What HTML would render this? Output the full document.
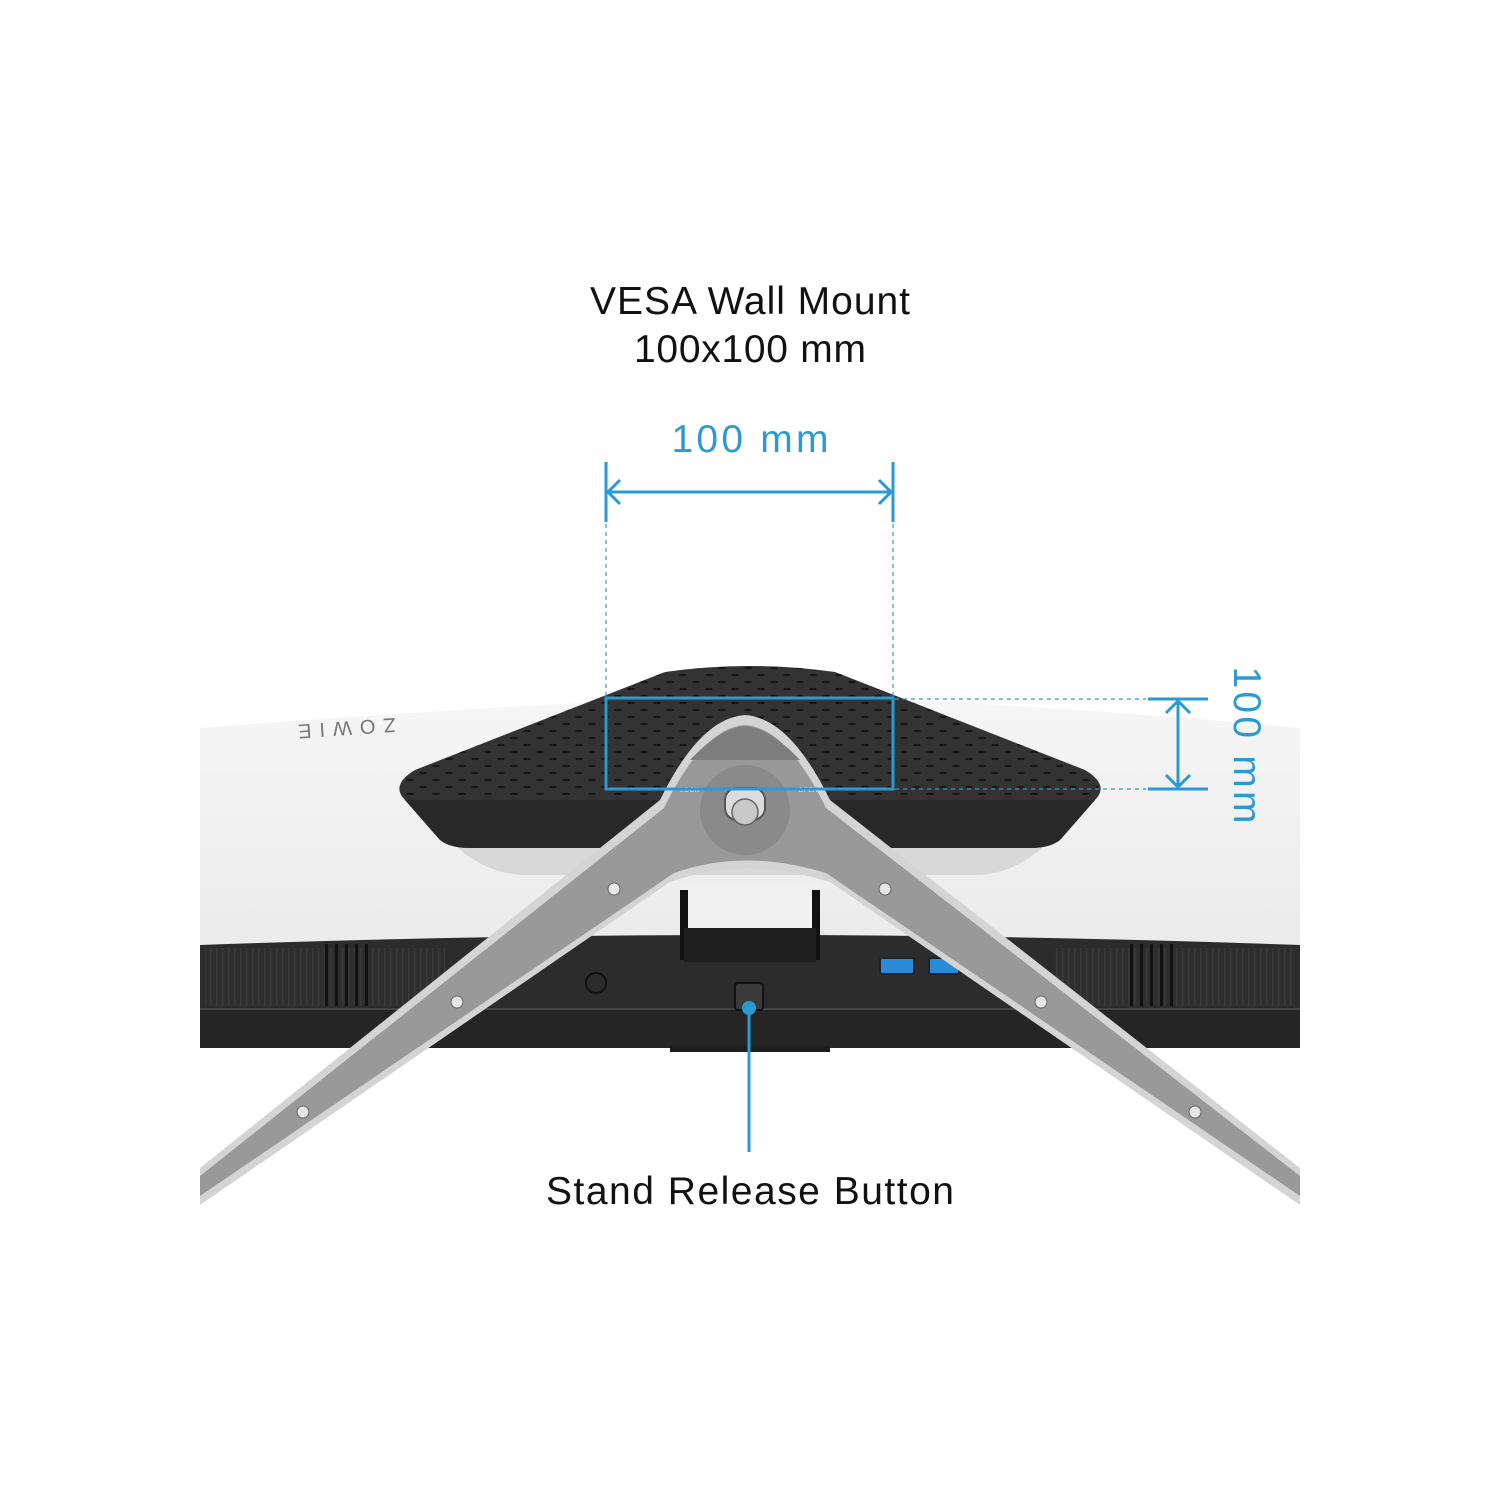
<!DOCTYPE html>
<html><head><meta charset="utf-8"><style>
html,body{margin:0;padding:0;background:#fff;}
svg{display:block;}
text{font-family:"Liberation Sans",sans-serif;}
</style></head><body>
<svg width="1500" height="1500" viewBox="0 0 1500 1500" xmlns="http://www.w3.org/2000/svg">
<defs>
<pattern id="dots" width="26" height="14" patternUnits="userSpaceOnUse">
<ellipse cx="7" cy="3" rx="4" ry="1.2" fill="#111"/>
<ellipse cx="20" cy="10" rx="4" ry="1.2" fill="#111"/>
</pattern>
<linearGradient id="wh" x1="0" y1="0" x2="0" y2="1">
<stop offset="0" stop-color="#f6f6f6"/><stop offset="1" stop-color="#ebebeb"/>
</linearGradient>
<pattern id="vent" width="6" height="10" patternUnits="userSpaceOnUse">
<rect width="6" height="10" fill="#2e2e2e"/><rect x="0" width="1.5" height="10" fill="#3a3a3a"/>
</pattern>
</defs>

<path d="M200 728 Q500 705 750 695 Q1000 700 1300 728 L1300 945 L200 945 Z" fill="url(#wh)"/>
<path d="M200 945 Q750 925 1300 945 L1300 1048 L200 1048 Z" fill="#2c2c2c"/>
<rect x="200" y="1010" width="1100" height="38" fill="#252525"/>
<rect x="200" y="1008" width="1100" height="2" fill="#444"/>
<rect x="205" y="948" width="240" height="58" fill="url(#vent)"/>
<rect x="1055" y="948" width="240" height="58" fill="url(#vent)"/>
<rect x="325" y="944" width="3" height="62" fill="#111"/><rect x="335" y="944" width="3" height="62" fill="#111"/><rect x="345" y="944" width="3" height="62" fill="#111"/><rect x="355" y="944" width="3" height="62" fill="#111"/><rect x="365" y="944" width="3" height="62" fill="#111"/>
<rect x="1130" y="944" width="3" height="62" fill="#111"/><rect x="1140" y="944" width="3" height="62" fill="#111"/><rect x="1150" y="944" width="3" height="62" fill="#111"/><rect x="1160" y="944" width="3" height="62" fill="#111"/><rect x="1170" y="944" width="3" height="62" fill="#111"/>
<rect x="670" y="1046" width="160" height="6" fill="#1e1e1e"/>
<circle cx="596" cy="983" r="10" fill="none" stroke="#111" stroke-width="2"/>
<rect x="880" y="958" width="34" height="16" rx="2" fill="#2a8bd8" stroke="#222" stroke-width="2"/>
<rect x="929" y="958" width="30" height="16" rx="2" fill="#2a8bd8" stroke="#222" stroke-width="2"/>
<text x="0" y="0" font-size="20" fill="#777" letter-spacing="8" transform="translate(395 718) rotate(176)">ZOWIE</text>

<path d="M420 800 Q460 870 520 875 L980 875 Q1040 870 1080 800 Z" fill="#d8d8d8"/>
<path d="M665 672 Q750 660 835 672 L1085 770 Q1110 785 1095 800 L1060 840 Q1050 848 1030 848 L470 848 Q450 848 440 840 L405 800 Q390 785 415 770 Z" fill="#333"/>
<path d="M665 672 Q750 660 835 672 L1085 770 Q1105 782 1095 795 L405 795 Q395 782 415 770 Z" fill="url(#dots)" opacity="0.85"/>
<path d="M405 800 L1095 800 L1060 840 Q1050 848 1030 848 L470 848 Q450 848 440 840 Z" fill="#282828"/>

<rect x="680" y="885" width="140" height="75" fill="#f0f0f0"/>
<rect x="680" y="890" width="8" height="70" fill="#111"/><rect x="812" y="890" width="8" height="70" fill="#111"/>
<rect x="684" y="928" width="132" height="34" fill="#1e1e1e"/>
<rect x="735" y="983" width="28" height="27" rx="3" fill="#3a3a3a" stroke="#111" stroke-width="2"/>

<path d="M200 1168 L660 800 Q700 718 745 715 Q790 718 830 800 L1300 1168 L1300 1205 L830 882 Q745 855 670 882 L200 1205 Z" fill="#d4d4d4"/>
<path d="M200 1176 L664 808 Q703 728 745 725 Q787 728 826 808 L1300 1176 L1300 1196 L826 873 Q745 848 674 873 L200 1196 Z" fill="#999"/>
<path d="M690 760 Q720 728 745 726 Q770 728 800 760 Z" fill="#7e7e7e"/>
<circle cx="745" cy="810" r="45" fill="#8a8a8a"/>
<rect x="725" y="788" width="40" height="32" rx="12" fill="#dcdcdc" stroke="#555" stroke-width="2"/>
<circle cx="745" cy="812" r="13" fill="#c8c8c8" stroke="#666" stroke-width="1.5"/>
<text x="680" y="792" font-size="7" fill="#ddd">LOCK</text>
<text x="798" y="792" font-size="7" fill="#ddd">OPEN</text>
<g fill="#e6e6e6" stroke="#666" stroke-width="1">
<circle cx="614" cy="889" r="6"/><circle cx="885" cy="889" r="6"/>
<circle cx="457" cy="1002" r="6"/><circle cx="1041" cy="1002" r="6"/>
<circle cx="303" cy="1112" r="6"/><circle cx="1195" cy="1112" r="6"/>
</g>

<g stroke="#2b9ad2" fill="none">
<rect x="606" y="698" width="287" height="91" stroke-width="3"/>
<line x1="606" y1="462" x2="606" y2="522" stroke-width="3"/>
<line x1="893" y1="462" x2="893" y2="522" stroke-width="3"/>
<line x1="608" y1="492" x2="891" y2="492" stroke-width="3"/>
<polyline points="620,480 608,492 620,504" stroke-width="3"/>
<polyline points="879,480 891,492 879,504" stroke-width="3"/>
<line x1="606" y1="524" x2="606" y2="696" stroke-width="1.2" stroke-dasharray="4 4"/>
<line x1="893" y1="524" x2="893" y2="696" stroke-width="1.2" stroke-dasharray="4 4"/>
<line x1="895" y1="699" x2="1146" y2="699" stroke-width="1.2" stroke-dasharray="4 4"/>
<line x1="895" y1="789" x2="1146" y2="789" stroke-width="1.2" stroke-dasharray="4 4"/>
<line x1="1148" y1="699" x2="1208" y2="699" stroke-width="3"/>
<line x1="1148" y1="789" x2="1208" y2="789" stroke-width="3"/>
<line x1="1178" y1="701" x2="1178" y2="787" stroke-width="3"/>
<polyline points="1166,713 1178,701 1190,713" stroke-width="3"/>
<polyline points="1166,775 1178,787 1190,775" stroke-width="3"/>
<line x1="749" y1="1008" x2="749" y2="1152" stroke-width="3"/>
</g>
<circle cx="749" cy="1008" r="7" fill="#2b9ad2"/>

<text x="750" y="314" font-size="39" text-anchor="middle" fill="#111" textLength="320">VESA Wall Mount</text>
<text x="750" y="362" font-size="39" text-anchor="middle" fill="#111" textLength="232">100x100 mm</text>
<text x="750" y="452" font-size="39" text-anchor="middle" fill="#2b9ad2" textLength="157">100 mm</text>
<text x="0" y="0" font-size="39" text-anchor="middle" fill="#2b9ad2" textLength="157" transform="translate(1234 745) rotate(90)">100 mm</text>
<text x="750" y="1204" font-size="39" text-anchor="middle" fill="#111" textLength="408">Stand Release Button</text>
</svg>
</body></html>
